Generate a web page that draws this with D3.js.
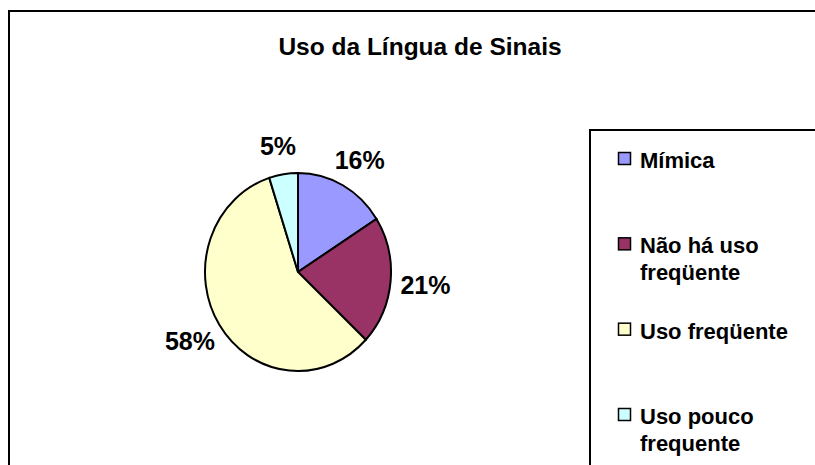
<!DOCTYPE html>
<html>
<head>
<meta charset="utf-8">
<title>Uso da Língua de Sinais</title>
<style>
body { margin: 0; background: #fff; }
text { font-family: "Liberation Sans", Arial, sans-serif; font-weight: bold; fill: #000; }
</style>
</head>
<body>
<div id="graphic"></div>
<script src="https://cdn.jsdelivr.net/npm/d3@7"></script>
<script>
var chartTitle = "Uso da Língua de Sinais";
var categories = ["Mímica", "Não há uso freqüente", "Uso freqüente", "Uso pouco frequente"];
var values = [16, 21, 58, 5];
var sliceColors = ["#9999ff", "#993366", "#ffffcc", "#ccffff"];

var w = 815, h = 465;
var cx = 298, cy = 272, r = 93, squash = 99 / 93;

var svg = d3.select("#graphic").append("svg")
    .attr("width", w)
    .attr("height", h);

// chart area border (runs off the right/bottom edge like the original)
svg.append("rect")
    .attr("x", 9).attr("y", 11)
    .attr("width", 900).attr("height", 600)
    .attr("fill", "none").attr("stroke", "#000").attr("stroke-width", 2);

svg.append("text")
    .attr("x", 420).attr("y", 55)
    .attr("text-anchor", "middle")
    .style("font-size", "24.5px")
    .text(chartTitle);

var color = d3.scaleOrdinal().domain(categories).range(sliceColors);
var total = d3.sum(values);

var pie = d3.pie().sort(null).value(function(d) { return d.v; });
var arcs = pie(categories.map(function(c, i) { return {name: c, v: values[i]}; }));

var arc = d3.arc().innerRadius(0).outerRadius(r);
var labelArc = d3.arc().innerRadius(128).outerRadius(128);

var g = svg.append("g")
    .attr("transform", "translate(" + cx + "," + cy + ") scale(1," + squash + ")");

g.selectAll("path")
    .data(arcs)
    .enter().append("path")
    .attr("d", arc)
    .attr("fill", function(d) { return color(d.data.name); })
    .attr("stroke", "#000")
    .attr("stroke-width", 2)
    .attr("vector-effect", "non-scaling-stroke");

svg.append("g")
    .selectAll("text")
    .data(arcs)
    .enter().append("text")
    .attr("x", function(d) { return cx + labelArc.centroid(d)[0]; })
    .attr("y", function(d) { return cy + labelArc.centroid(d)[1]; })
    .attr("text-anchor", "middle")
    .attr("dy", "0.38em")
    .style("font-size", "25px")
    .text(function(d) { return Math.round(d.data.v / total * 100) + "%"; });

// legend
svg.append("rect")
    .attr("x", 590).attr("y", 130)
    .attr("width", 400).attr("height", 500)
    .attr("fill", "#fff").attr("stroke", "#000").attr("stroke-width", 2);

var rowY = d3.scalePoint().domain(categories).range([168, 424]);

var item = svg.append("g").selectAll("g")
    .data(categories)
    .enter().append("g")
    .attr("transform", function(d) { return "translate(0," + rowY(d) + ")"; });

item.append("rect")
    .attr("x", 618.5).attr("y", -15.5)
    .attr("width", 12).attr("height", 12)
    .attr("fill", function(d) { return color(d); })
    .attr("stroke", "#000").attr("stroke-width", 1.5);

item.append("text")
    .attr("x", 640)
    .style("font-size", "22px")
    .each(function(d) {
        var t = d3.select(this), words = d.split(" "), line = [];
        var span = t.append("tspan").attr("x", 640).attr("dy", 0);
        words.forEach(function(word) {
            line.push(word);
            span.text(line.join(" "));
            if (span.node().getComputedTextLength() > 160 && line.length > 1) {
                line.pop();
                span.text(line.join(" "));
                line = [word];
                span = t.append("tspan").attr("x", 640).attr("dy", 27).text(word);
            }
        });
    });
</script>
</body>
</html>
